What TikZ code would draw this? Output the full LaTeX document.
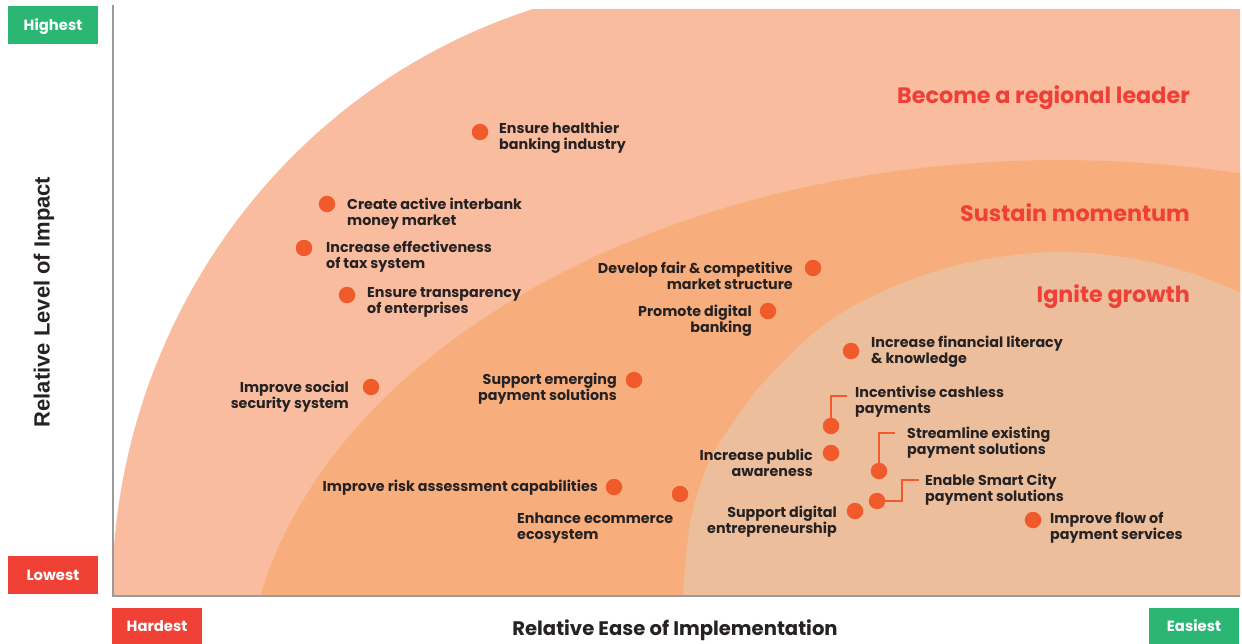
\documentclass[tikz,border=0pt]{standalone}
\usepackage{fontspec}
\setmainfont{Poppins}
\newfontfamily\axisfont{Liberation Sans}
\definecolor{outerc}{HTML}{F9BC9E}
\definecolor{midc}{HTML}{F8AE7C}
\definecolor{innerc}{HTML}{ECBE9C}
\definecolor{dotc}{HTML}{F15A2B}
\definecolor{titlec}{HTML}{EE4036}
\definecolor{ink}{HTML}{262223}
\definecolor{goodc}{HTML}{2BB673}
\definecolor{badc}{HTML}{EF4136}
\definecolor{axisc}{HTML}{9A9A9A}
\begin{document}
\begin{tikzpicture}[x=1pt,y=-1pt,
  dot/.style={circle, fill=dotc, minimum size=16.5pt, inner sep=0pt},
  lbl/.style={font=\bfseries\fontsize{14.3}{16}\selectfont, text=ink, inner sep=0pt, yshift=-1.5pt},
  lblL/.style={lbl, anchor=west, align=left},
  lblR/.style={lbl, anchor=east, align=right},
  link/.style={draw=dotc, line width=1.3pt},
  zone/.style={font=\bfseries\fontsize{22.3}{26}\selectfont, text=titlec, anchor=base east, inner sep=0pt},
  tag/.style={minimum width=90pt, inner sep=0pt, text height=10.4pt, text depth=0pt, text=white, font=\bfseries\fontsize{14.8}{16}\selectfont},
  axisline/.style={draw=axisc, line width=2pt}]
\useasboundingbox (0,0) rectangle (1242,644);
\fill[white] (0,0) rectangle (1242,644);

% three nested zones, clipped to the plot area
\begin{scope}
  \clip (113,10) rectangle (1240,596);
  \fill[outerc] plot[domain=180:95, samples=60] ({712+600*cos(\x)}, {596-615*sin(\x)})
    -- (1260,-20) -- (1260,620) -- (100,620) -- cycle;
  \fill[midc] plot[domain=190:0, samples=80] ({1060+815*cos(\x)}, {700-540*sin(\x)})
    -- (1880,720) -- cycle;
  \fill[innerc] plot[smooth, tension=0.55] coordinates {(682,620) (683,596) (689,530) (700,485)
    (715,450) (735,420) (757,390) (785,360) (815,332) (850,308) (900,284) (950,267)
    (1000,257) (1050,252) (1100,254) (1150,262) (1200,276) (1241,293) (1262,302)}
    -- (1262,620) -- cycle;
\end{scope}

% axes
\draw[axisline] (113,5) -- (113,597);
\draw[axisline] (112,596) -- (1240,596);

% scale tags
\node[tag, fill=goodc, minimum height=38pt] (hi) at (53,25) {Highest};
\node[tag, fill=badc, minimum height=38pt] (lo) at (53,575) {Lowest};
\node[tag, fill=badc, minimum height=36pt] (hard) at (157,626) {Hardest};
\node[tag, fill=goodc, minimum height=36pt] (easy) at (1194,626) {Easiest};

% axis titles
\node[font=\axisfont\bfseries\fontsize{22}{24}\selectfont, text=ink, rotate=90] (ytitle) at (44,302) {Relative Level of Impact};
\node[font=\bfseries\fontsize{19.6}{22}\selectfont, text=ink] (xtitle) at (675,630) {Relative Ease of Implementation};

% zone titles
\node[zone] (z1) at (1190,104) {Become a regional leader};
\node[zone] (z2) at (1190,222) {Sustain momentum};
\node[zone] (z3) at (1190,303) {Ignite growth};

% initiatives
\node[dot] (d1) at (480,132) {};
\node[lblL] (t1) at (499,136) {Ensure healthier\\banking industry};
\node[dot] (d2) at (327,204) {};
\node[lblL] (t2) at (347,212) {Create active interbank\\money market};
\node[dot] (d3) at (304,248) {};
\node[lblL] (t3) at (326,255) {Increase effectiveness\\of tax system};
\node[dot] (d4) at (347,295) {};
\node[lblL] (t4) at (367,301) {Ensure transparency\\of enterprises};
\node[dot] (d5) at (371,387) {};
\node[lblR] (t5) at (349,395) {Improve social\\security system};
\node[dot] (d6) at (813,268) {};
\node[lblR] (t6) at (793,274) {Develop fair \& competitive\\market structure};
\node[dot] (d7) at (768,311) {};
\node[lblR] (t7) at (752,319) {Promote digital\\banking};
\node[dot] (d8) at (634,380) {};
\node[lblR] (t8) at (617,387) {Support emerging\\payment solutions};
\node[dot] (d9) at (614,487) {};
\node[lblR] (t9) at (598,486) {Improve risk assessment capabilities};
\node[dot] (d10) at (680,494) {};
\node[lblL] (t10) at (517,527) {Enhance ecommerce\\ecosystem};
\node[dot] (d11) at (851,351) {};
\node[lblL] (t11) at (871,350) {Increase financial literacy\\\& knowledge};
\node[dot] (d12) at (831,426) {};
\node[lblL] (t12) at (855,400) {Incentivise cashless\\payments};
\node[dot] (d13) at (831,453) {};
\node[lblR] (t13) at (813,461) {Increase public\\awareness};
\node[dot] (d14) at (879,471) {};
\node[lblL] (t14) at (907,441) {Streamline existing\\payment solutions};
\node[dot] (d15) at (877,501) {};
\node[lblL] (t15) at (925,488) {Enable Smart City\\payment solutions};
\node[dot] (d16) at (855,511) {};
\node[lblR] (t16) at (837,520) {Support digital\\entrepreneurship};
\node[dot] (d17) at (1033,520) {};
\node[lblL] (t17) at (1050,526) {Improve flow of\\payment services};

% leader lines
\coordinate (c12) at (847,396);
\coordinate (c14) at (895,433);
\coordinate (k15) at (902,500);
\coordinate (c15) at (919,480);
\draw[link] (d12.center) |- (c12);
\draw[link] (d14.center) |- (c14);
\draw[link] (d15.center) -- (d15 -| k15) |- (c15);
\end{tikzpicture}
\end{document}
